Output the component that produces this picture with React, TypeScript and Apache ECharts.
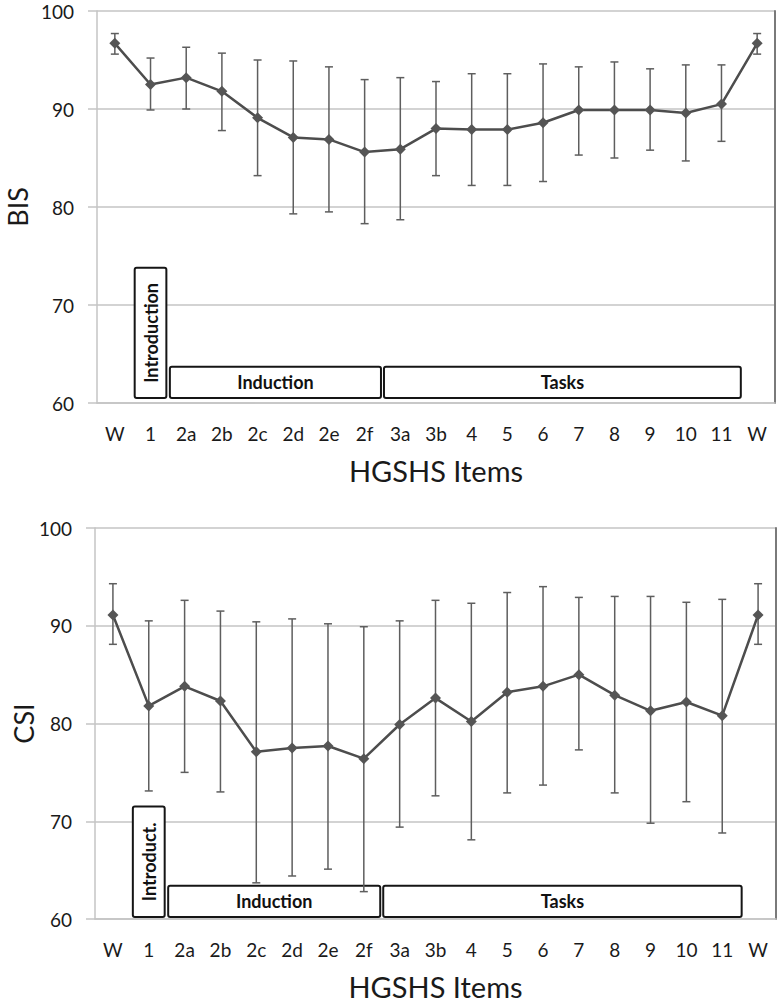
import React, { useEffect, useRef } from 'react';
import * as echarts from 'echarts';

const categories = ['W', '1', '2a', '2b', '2c', '2d', '2e', '2f', '3a', '3b', '4', '5', '6', '7', '8', '9', '10', '11', 'W'];

const bisMean = [96.7, 92.5, 93.2, 91.8, 89.1, 87.1, 86.9, 85.6, 85.9, 88.0, 87.9, 87.9, 88.6, 89.9, 89.9, 89.9, 89.6, 90.5, 96.7];
const bisUpper = [97.7, 95.2, 96.3, 95.7, 95.0, 94.9, 94.3, 93.0, 93.2, 92.8, 93.6, 93.6, 94.6, 94.3, 94.8, 94.1, 94.5, 94.5, 97.7];
const bisLower = [95.6, 89.9, 90.0, 87.8, 83.2, 79.3, 79.5, 78.3, 78.7, 83.2, 82.2, 82.2, 82.6, 85.3, 85.0, 85.8, 84.7, 86.7, 95.6];

const csiMean = [91.1, 81.8, 83.8, 82.3, 77.1, 77.5, 77.7, 76.4, 79.9, 82.6, 80.2, 83.2, 83.8, 85.0, 82.9, 81.3, 82.2, 80.8, 91.1];
const csiUpper = [94.3, 90.5, 92.6, 91.5, 90.4, 90.7, 90.2, 89.9, 90.5, 92.6, 92.3, 93.4, 94.0, 92.9, 93.0, 93.0, 92.4, 92.7, 94.3];
const csiLower = [88.1, 73.1, 75.0, 73.0, 63.7, 64.4, 65.1, 62.8, 69.4, 72.6, 68.1, 72.9, 73.7, 77.3, 72.9, 69.8, 72.0, 68.8, 88.1];

const yTicks = [60, 70, 80, 90, 100];

// phase annotation boxes: label, first / last category index, bottom / top value
const bisBoxLabels = ['Introduction', 'Induction', 'Tasks'];
const bisBoxStart = [1, 2, 8];
const bisBoxEnd = [1, 7, 17];
const bisBoxBottom = [60.5, 60.5, 60.5];
const bisBoxTop = [73.8, 63.7, 63.7];
const bisBoxVertical = [true, false, false];

const csiBoxLabels = ['Introduct.', 'Induction', 'Tasks'];
const csiBoxStart = [1, 2, 8];
const csiBoxEnd = [1, 7, 17];
const csiBoxBottom = [60.2, 60.2, 60.2];
const csiBoxTop = [71.5, 63.4, 63.4];
const csiBoxVertical = [true, false, false];

const FONT = 'Lato, "Open Sans", sans-serif';
const GRID_COLOR = '#c4c4c4';

function errorSeries(idx: number, lower: number[], upper: number[]) {
  return {
    type: 'custom',
    xAxisIndex: idx,
    yAxisIndex: idx * 2,
    z: 3,
    silent: true,
    data: lower.map((lo, i) => [i, lo, upper[i]]),
    encode: { x: 0, y: [1, 2] },
    renderItem: (params: any, api: any) => {
      const x = api.value(0);
      const lo = api.coord([x, api.value(1)]);
      const hi = api.coord([x, api.value(2)]);
      const half = 4;
      const st = { stroke: '#5e5e5e', lineWidth: 1.5 };
      return {
        type: 'group',
        children: [
          { type: 'line', shape: { x1: lo[0], y1: lo[1], x2: hi[0], y2: hi[1] }, style: st },
          { type: 'line', shape: { x1: hi[0] - half, y1: hi[1], x2: hi[0] + half, y2: hi[1] }, style: st },
          { type: 'line', shape: { x1: lo[0] - half, y1: lo[1], x2: lo[0] + half, y2: lo[1] }, style: st },
        ],
      };
    },
  };
}

function boxSeries(idx: number, labels: string[], start: number[], end: number[], bottom: number[], top: number[], vertical: boolean[]) {
  return {
    type: 'custom',
    xAxisIndex: idx,
    yAxisIndex: idx * 2,
    z: 2,
    silent: true,
    data: labels.map((_, i) => [start[i], end[i], bottom[i], top[i]]),
    encode: { x: [0, 1], y: [2, 3] },
    renderItem: (params: any, api: any) => {
      const i = params.dataIndex;
      const bw = api.size([1, 0])[0];
      const p0 = api.coord([api.value(0), api.value(2)]);
      const p1 = api.coord([api.value(1), api.value(3)]);
      const pad = vertical[i] ? 2 : 1.5;
      const x0 = p0[0] - bw / 2 + pad;
      const x1 = p1[0] + bw / 2 - pad + (i === 2 ? 3 : 0);
      const y0 = p1[1];
      const y1 = p0[1];
      const cx = (x0 + x1) / 2;
      const cy = (y0 + y1) / 2;
      return {
        type: 'group',
        children: [
          {
            type: 'rect',
            shape: { x: x0, y: y0, width: x1 - x0, height: y1 - y0, r: 2 },
            style: { fill: '#ffffff', stroke: '#151515', lineWidth: 2 },
          },
          {
            type: 'text',
            x: cx,
            y: cy,
            rotation: vertical[i] ? Math.PI / 2 : 0,
            style: {
              text: labels[i],
              fontFamily: FONT,
              fontSize: 18,
              fontWeight: 'bold',
              fill: '#111111',
              align: 'center',
              verticalAlign: 'middle',
            },
          },
        ],
      };
    },
  };
}

function lineSeries(idx: number, values: number[]) {
  return {
    type: 'line',
    xAxisIndex: idx,
    yAxisIndex: idx * 2,
    z: 4,
    data: values,
    symbol: 'diamond',
    symbolSize: 11,
    lineStyle: { color: '#4d4d4d', width: 2.5 },
    itemStyle: { color: '#555555' },
  };
}

function xAxis(idx: number) {
  return {
    type: 'category',
    gridIndex: idx,
    data: categories,
    boundaryGap: true,
    name: 'HGSHS Items',
    nameLocation: 'middle',
    nameGap: 53,
    nameMoveOverlap: false,
    nameTextStyle: { fontFamily: FONT, fontSize: 29, color: '#1a1a1a' },
    axisLine: { show: true, lineStyle: { color: GRID_COLOR, width: 1.5 } },
    axisTick: { show: false },
    axisLabel: { fontFamily: FONT, fontSize: 19, color: '#1a1a1a', margin: 21, interval: 0 },
    splitLine: { show: false },
  };
}

function yAxisLeft(idx: number, name: string, gap: number) {
  return {
    type: 'value',
    gridIndex: idx,
    min: yTicks[0],
    max: yTicks[yTicks.length - 1],
    interval: 10,
    name,
    nameLocation: 'middle',
    nameGap: gap,
    nameMoveOverlap: false,
    nameTextStyle: { fontFamily: FONT, fontSize: 27, color: '#1a1a1a' },
    axisLine: { show: true, lineStyle: { color: GRID_COLOR, width: 1.5 } },
    axisTick: { show: true, length: 9, lineStyle: { color: GRID_COLOR, width: 1.5 } },
    axisLabel: { fontFamily: FONT, fontSize: 19, color: '#1a1a1a', margin: 23 },
    splitLine: { show: true, lineStyle: { color: GRID_COLOR, width: 1.5 } },
  };
}

function yAxisRight(idx: number) {
  return {
    type: 'value',
    gridIndex: idx,
    position: 'right',
    min: yTicks[0],
    max: yTicks[yTicks.length - 1],
    interval: 10,
    axisLine: { show: true, lineStyle: { color: '#7a7a7a', width: 2 } },
    axisTick: { show: false },
    axisLabel: { show: false },
    splitLine: { show: false },
  };
}

export default function App() {
  const ref = useRef<HTMLDivElement>(null);
  useEffect(() => {
    document.body.style.margin = '0';
    if (!ref.current) return;
    const chart = echarts.init(ref.current, undefined, { renderer: 'svg' });
    chart.setOption({
      animation: false,
      backgroundColor: '#ffffff',
      textStyle: { fontFamily: FONT },
      grid: [
        { left: 97, right: 5, top: 11, height: 392, outerBoundsMode: 'none', containLabel: false },
        { left: 95, right: 4, top: 528, height: 391, outerBoundsMode: 'none', containLabel: false },
      ],
      xAxis: [xAxis(0), xAxis(1)],
      yAxis: [yAxisLeft(0, 'BIS', 66), yAxisRight(0), yAxisLeft(1, 'CSI', 58), yAxisRight(1)],
      series: [
        boxSeries(0, bisBoxLabels, bisBoxStart, bisBoxEnd, bisBoxBottom, bisBoxTop, bisBoxVertical),
        errorSeries(0, bisLower, bisUpper),
        lineSeries(0, bisMean),
        boxSeries(1, csiBoxLabels, csiBoxStart, csiBoxEnd, csiBoxBottom, csiBoxTop, csiBoxVertical),
        errorSeries(1, csiLower, csiUpper),
        lineSeries(1, csiMean),
      ],
    });
    return () => chart.dispose();
  }, []);
  return <div ref={ref} style={{ width: 780, height: 1004 }} />;
}
